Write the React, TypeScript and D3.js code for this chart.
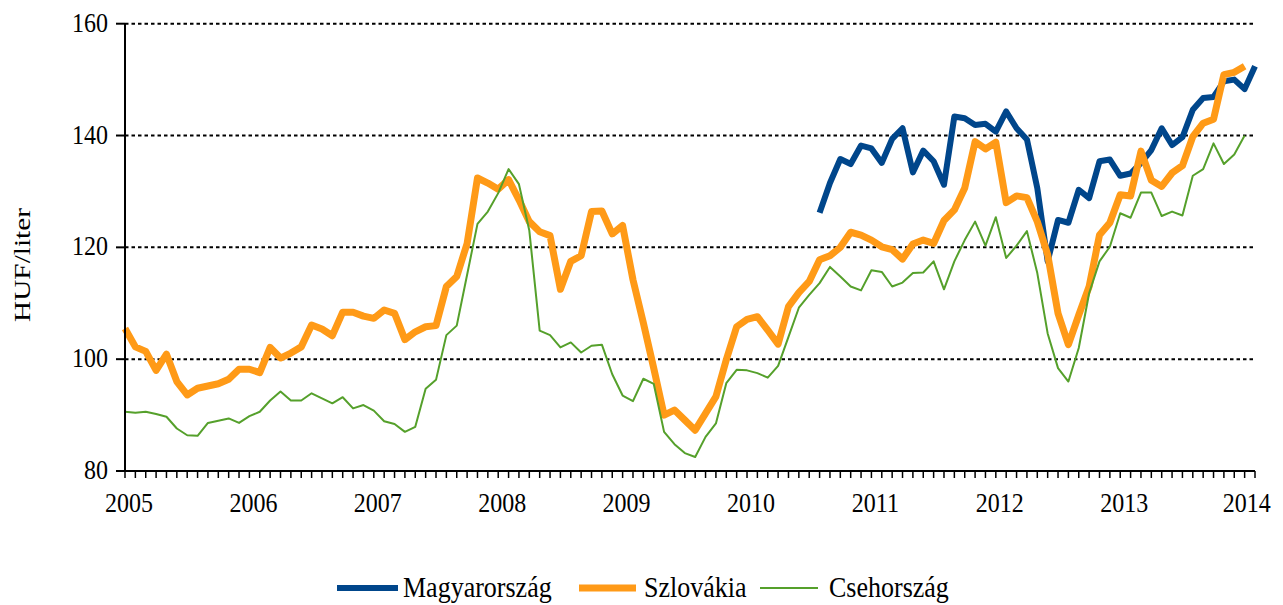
import React from "react";
import * as d3 from "d3";

// Monthly observations, Jan 2005 = index 0 (HUF/liter)
const yearLabels = ["2005", "2006", "2007", "2008", "2009", "2010", "2011", "2012", "2013", "2014"];
const monthCount = 110; // Jan 2005 .. Feb 2014

const szlovakia = [
  105.5, 102.2, 101.4, 98.0, 100.9, 96.0, 93.6, 94.8, 95.2, 95.6, 96.4, 98.2,
  98.2, 97.6, 102.1, 100.2, 101.1, 102.2, 106.1, 105.4, 104.2, 108.4, 108.4, 107.7,
  107.3, 108.8, 108.2, 103.5, 104.9, 105.8, 106.0, 113.0, 114.8, 120.7, 132.4, 131.5,
  130.4, 132.1, 128.5, 124.6, 122.8, 122.1, 112.5, 117.5, 118.5, 126.4, 126.5, 122.4,
  123.9, 114.2, 106.5, 98.4, 90.0, 90.9, 89.1, 87.3, 90.3, 93.3, 99.9, 105.8,
  107.1, 107.6, 105.2, 102.7, 109.4, 111.9, 113.9, 117.8, 118.5, 120.0, 122.7, 122.2,
  121.3, 120.1, 119.6, 117.9, 120.6, 121.3, 120.7, 124.8, 126.7, 130.6, 138.9, 137.6,
  138.8, 128.0, 129.2, 128.9, 124.6, 118.7, 108.2, 102.6, 107.9, 113.0, 122.2, 124.4,
  129.4, 129.2, 137.2, 132.0, 130.9, 133.3, 134.6, 139.8, 142.2, 142.9, 150.9, 151.3,
  152.4,
];

const csehorszag = [
  90.6, 90.4, 90.6, 90.2, 89.7, 87.6, 86.4, 86.3, 88.6, 89.0, 89.4, 88.6,
  89.8, 90.6, 92.6, 94.2, 92.6, 92.6, 93.9, 93.0, 92.1, 93.2, 91.2, 91.8,
  90.8, 88.9, 88.4, 87.0, 87.9, 94.7, 96.3, 104.3, 106.0, 115.1, 124.2, 126.4,
  129.7, 134.0, 131.3, 123.0, 105.1, 104.3, 102.1, 103.0, 101.2, 102.4, 102.6, 97.3,
  93.5, 92.5, 96.5, 95.6, 87.0, 84.8, 83.2, 82.5, 86.1, 88.5, 95.7, 98.1,
  98.0, 97.5, 96.7, 98.8, 104.0, 109.2, 111.5, 113.6, 116.5, 114.8, 113.0, 112.3,
  115.9, 115.6, 113.0, 113.7, 115.4, 115.5, 117.5, 112.5, 117.5, 121.3, 124.6, 120.3,
  125.4, 118.1, 120.3, 122.9, 115.4, 104.6, 98.4, 96.0, 102.0, 111.8, 117.5, 120.1,
  126.1, 125.3, 129.8, 129.8, 125.6, 126.4, 125.7, 132.8, 134.0, 138.6, 134.9, 136.6,
  140.0,
];

// Magyarország starts Aug 2010 (index 67)
const magyarStart = 67;
const magyarorszag = [
  126.2, 131.5, 135.8, 134.9, 138.2,
  137.7, 135.1, 139.4, 141.3, 133.4, 137.3, 135.4, 131.2, 143.4, 143.1, 141.9, 142.1,
  140.7, 144.3, 141.3, 139.3, 130.6, 117.5, 124.9, 124.4, 130.3, 128.8, 135.4, 135.7,
  132.8, 133.2, 135.1, 137.4, 141.3, 138.3, 139.7, 144.6, 146.7, 146.9, 149.7, 150.0,
  148.3, 152.4,
];

const yTicks = [80, 100, 120, 140, 160];

const seriesDefs = [
  { name: "Magyarország", color: "#00468B", width: 6, values: magyarorszag, start: magyarStart },
  { name: "Szlovákia", color: "#FF9A17", width: 7, values: szlovakia, start: 0 },
  { name: "Csehország", color: "#55A02B", width: 2, values: csehorszag, start: 0 },
];

const W = 1283;
const H = 605;
const left = 125;
const right = 1255;
const top = 23.7;
const bottom = 471;
const FONT = "'Liberation Serif', 'Times New Roman', serif";
const STRETCH = 1.15;

function SText(props: { x: number; y: number; size: number; anchor?: string; children: React.ReactNode; sy?: number }) {
  const sy = props.sy ?? STRETCH;
  return (
    <text
      transform={`translate(${props.x},${props.y}) scale(1,${sy})`}
      textAnchor={props.anchor || "start"}
      fontSize={props.size}
      fill="#000"
    >
      {props.children}
    </text>
  );
}

export default function App() {
  const x = d3.scaleLinear().domain([0, monthCount - 1]).range([left, right]);
  const y = d3.scaleLinear().domain([80, 160]).range([bottom, top]);
  const line = d3
    .line<[number, number]>()
    .x((d) => x(d[0]))
    .y((d) => y(d[1]));

  const monthTicks = d3.range(monthCount);

  return (
    <svg
      width={W}
      height={H}
      style={{ position: "absolute", left: 0, top: 0, background: "#fff" }}
      fontFamily={FONT}
    >
      {/* gridlines */}
      {yTicks
        .filter((t) => t !== 80)
        .map((t) => (
          <line
            key={"g" + t}
            x1={left}
            x2={right}
            y1={y(t)}
            y2={y(t)}
            stroke="#000"
            strokeWidth={2}
            strokeDasharray="3.5,3"
          />
        ))}

      {/* series */}
      {seriesDefs.map((s) => (
        <path
          key={s.name}
          d={line(s.values.map((v, i) => [i + s.start, v] as [number, number])) || ""}
          fill="none"
          stroke={s.color}
          strokeWidth={s.width}
          strokeLinejoin="round"
        />
      ))}

      {/* y axis */}
      <line x1={left} x2={left} y1={top} y2={bottom} stroke="#000" strokeWidth={2} />
      {yTicks.map((t) => (
        <g key={"y" + t}>
          <line x1={left - 9} x2={left} y1={y(t)} y2={y(t)} stroke="#000" strokeWidth={2} />
          <SText x={108} y={y(t) + 8} size={24} anchor="end">
            {t}
          </SText>
        </g>
      ))}

      {/* x axis */}
      <line x1={left - 9} x2={right} y1={bottom} y2={bottom} stroke="#000" strokeWidth={2} />
      {monthTicks.map((m) => (
        <line
          key={"m" + m}
          x1={x(m)}
          x2={x(m)}
          y1={bottom}
          y2={bottom + 7}
          stroke="#000"
          strokeWidth={1.5}
        />
      ))}
      {yearLabels.map((yl, k) => (
        <SText
          key={yl}
          x={x(k * 12) + (k === yearLabels.length - 1 ? 2 : 4)}
          y={512}
          size={24}
          anchor="middle"
        >
          {yl}
        </SText>
      ))}

      {/* y axis title */}
      <text
        transform={`translate(30,265) scale(1,1.22) rotate(-90)`}
        textAnchor="middle"
        fontSize={24}
        fill="#000"
      >
        HUF/liter
      </text>

      {/* legend */}
      {[
        { x0: 337, x1: 398, tx: 403 },
        { x0: 579, x1: 636, tx: 644 },
        { x0: 760, x1: 818, tx: 829 },
      ].map((p, i) => (
        <g key={"lg" + i}>
          <line
            x1={p.x0}
            x2={p.x1}
            y1={588}
            y2={588}
            stroke={seriesDefs[i].color}
            strokeWidth={seriesDefs[i].width}
          />
          <SText x={p.tx} y={597} size={26} sy={1.1}>
            {seriesDefs[i].name}
          </SText>
        </g>
      ))}
    </svg>
  );
}
